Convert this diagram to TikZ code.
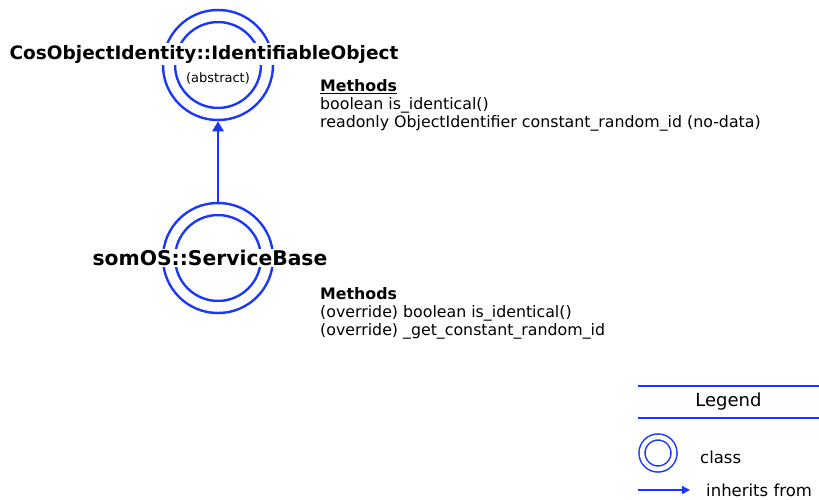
\documentclass[tikz,border=0pt]{standalone}
\usepackage{fontspec}
\setmainfont{DejaVu Sans}
\usetikzlibrary{arrows.meta}
\definecolor{ringblue}{RGB}{25,55,250}

\begin{document}
\begin{tikzpicture}[x=1pt,y=-1pt,
   classring/.style={circle,draw=ringblue,line width=2.5pt,double=white,
      double distance=9.5pt,minimum size=98pt,inner sep=0pt,outer sep=7.25pt},
   legendring/.style={circle,draw=ringblue,line width=1.5pt,double=white,
      double distance=4.5pt,minimum size=32pt,inner sep=0pt},
   classname/.style={fill=white,inner sep=1.5pt,font=\fontsize{18.5}{20}\selectfont\bfseries},
   methods/.style={anchor=north west,inner sep=0pt,align=left,
      font=\fontsize{15.8}{18}\selectfont},
   legendtext/.style={anchor=west,inner sep=0pt,font=\fontsize{16.5}{20}\selectfont},
   inherits/.style={draw=ringblue,line width=2.8pt,-{Triangle[width=11pt,length=10pt]}},
   legendarrow/.style={draw=ringblue,line width=1.5pt,-{Triangle[width=8pt,length=8pt]}}]
   \useasboundingbox (0,0) rectangle (819,499);

   \node[classring] (a0) at (218,65)  {};
   \node[classring] (a1) at (218,258) {};
   \node[classname] (n0) at (204,54)  {CosObjectIdentity::IdentifiableObject};
   \node[classname,font=\fontsize{20.3}{22}\selectfont\bfseries] (n1) at (210,258) {somOS::ServiceBase};
   \node[font=\fontsize{13}{14}\selectfont] (s0) at (218,78) {(abstract)};

   \path (a1) edge[inherits] (a0);

   \node[methods] (m0) at (320,79)  {\textbf{\underline{Methods}}\\
      boolean is\_identical()\\
      readonly ObjectIdentifier constant\_random\_id (no-data)};
   \node[methods] (m1) at (320,287) {\textbf{Methods}\\
      (override) boolean is\_identical()\\
      (override) \_get\_constant\_random\_id};

   % legend
   \node[minimum width=181pt,minimum height=32pt,inner sep=0pt,
      font=\fontsize{18}{20}\selectfont] (lg) at (728.5,402) {Legend};
   \draw[ringblue,line width=1.5pt] (lg.north west) -- (lg.north east);
   \draw[ringblue,line width=1.5pt] (lg.south west) -- (lg.south east);
   \node[legendring] (k0) at (658,453) {};
   \node[legendtext] (t0) at (700,457) {class};
   \coordinate (k1) at (638,490);
   \coordinate (k2) at (690,490);
   \path (k1) edge[legendarrow] (k2);
   \node[legendtext] (t1) at (706,490) {inherits from};

\end{tikzpicture}
\end{document}
